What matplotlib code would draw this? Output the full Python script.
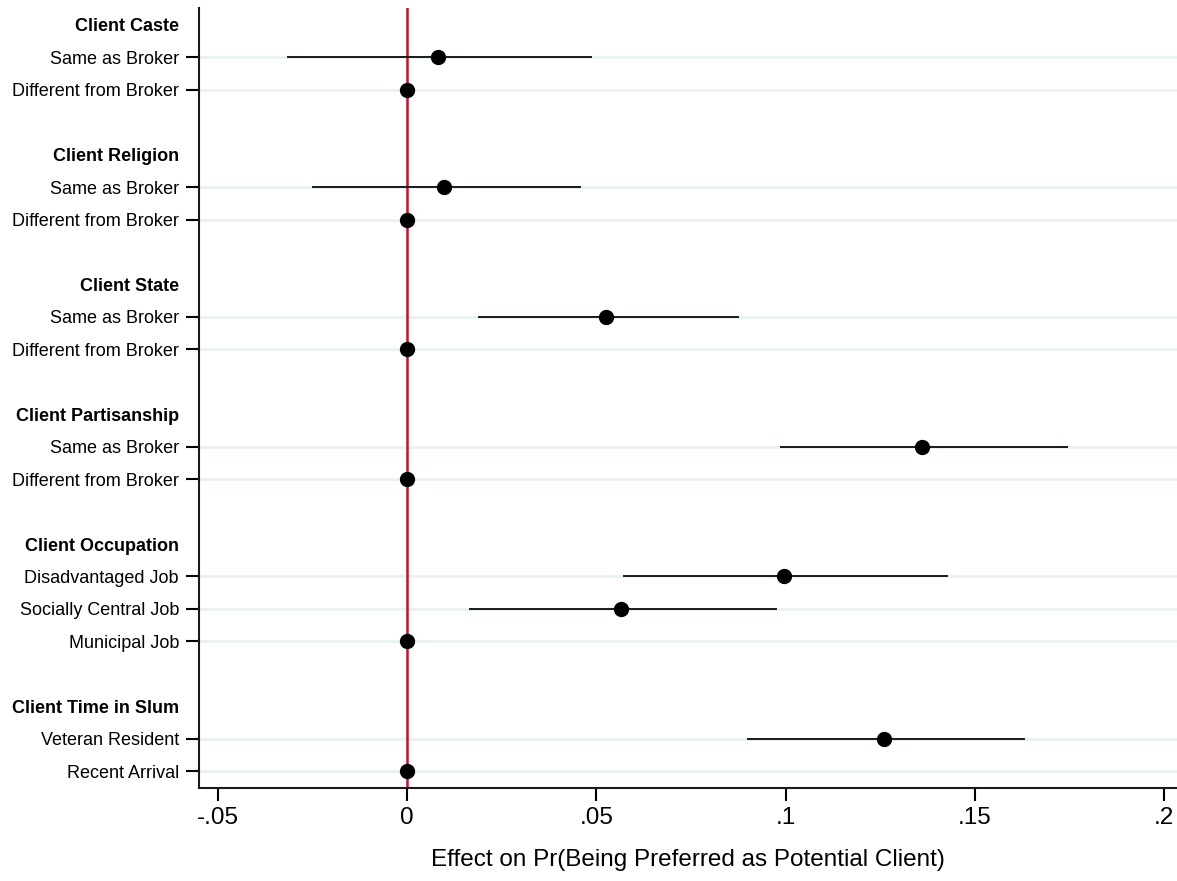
import numpy as np
import matplotlib
matplotlib.use("Agg")
import matplotlib.pyplot as plt

plt.rcParams['font.family'] = ['Liberation Sans', 'DejaVu Sans']

# Rows top-to-bottom: (label, is_header)
row_labels = ["Client Caste", "Same as Broker", "Different from Broker", "",
              "Client Religion", "Same as Broker", "Different from Broker", "",
              "Client State", "Same as Broker", "Different from Broker", "",
              "Client Partisanship", "Same as Broker", "Different from Broker", "",
              "Client Occupation", "Disadvantaged Job", "Socially Central Job", "Municipal Job", "",
              "Client Time in Slum", "Veteran Resident", "Recent Arrival"]
row_is_header = [True, False, False, None,
                 True, False, False, None,
                 True, False, False, None,
                 True, False, False, None,
                 True, False, False, False, None,
                 True, False, False]
nan = np.nan
estimates = [nan, 0.0082, 0.0, nan,
             nan, 0.0098, 0.0, nan,
             nan, 0.0525, 0.0, nan,
             nan, 0.1359, 0.0, nan,
             nan, 0.0995, 0.0566, 0.0, nan,
             nan, 0.1261, 0.0]
ci_low = [nan, -0.0314, nan, nan,
          nan, -0.0250, nan, nan,
          nan, 0.0190, nan, nan,
          nan, 0.0987, nan, nan,
          nan, 0.0573, 0.0166, nan, nan,
          nan, 0.0900, nan]
ci_high = [nan, 0.0486, nan, nan,
           nan, 0.0456, nan, nan,
           nan, 0.0873, nan, nan,
           nan, 0.1744, nan, nan,
           nan, 0.1427, 0.0974, nan, nan,
           nan, 0.1630, nan]
xticks = [-0.05, 0, 0.05, 0.1, 0.15, 0.2]
xtick_labels = ["-.05", "0", ".05", ".1", ".15", ".2"]
xlabel = "Effect on Pr(Being Preferred as Potential Client)"

fig = plt.figure(figsize=(11.77, 8.81), dpi=100)
ax = fig.add_axes([199/1177, 1 - 788/881, 1 - 199/1177, (788 - 8)/881])

n = len(row_labels)
ypos = np.arange(n)
est = np.array(estimates, dtype=float)
lo = np.array(ci_low, dtype=float)
hi = np.array(ci_high, dtype=float)

tick_rows = [i for i in range(n) if row_is_header[i] is False]
header_rows = [i for i in range(n) if row_is_header[i] is True]

# gridlines at labelled rows
for i in tick_rows:
    ax.axhline(i, color='#ebf2f4', lw=2.2, zorder=0)

# reference line
ax.axvline(0, color='#c8102e', lw=1.8, zorder=2)

# CIs
for i in range(n):
    if np.isfinite(lo[i]):
        ax.plot([lo[i], hi[i]], [i, i], color='#1a1a1a', lw=1.4, zorder=3)
mask = np.isfinite(est)
ax.plot(est[mask], ypos[mask], 'o', color='black', ms=10, zorder=4)

ax.set_xlim(-0.055, 0.2034)
ax.set_ylim(n - 1 + 0.52, -0.52)

ytick_len = 9.4
ytick_pad = 5
ax.set_yticks(tick_rows)
ax.set_yticklabels([row_labels[i] for i in tick_rows], fontsize=13)
ax.tick_params(axis='y', length=ytick_len, width=1.5, pad=ytick_pad)
ax.set_xticks(xticks)
ax.set_xticklabels(xtick_labels, fontsize=17.5)
ax.tick_params(axis='x', length=9, width=1.5, pad=5)
ax.set_xlabel(xlabel, fontsize=17.5, labelpad=14)

for i in header_rows:
    ax.annotate(row_labels[i], xy=(0, i), xycoords=('axes fraction', 'data'),
                xytext=(-(ytick_len + ytick_pad), -1.5), textcoords='offset points',
                ha='right', va='center', fontsize=13, fontweight='bold')

for s in ['top', 'right']:
    ax.spines[s].set_visible(False)
for s in ['left', 'bottom']:
    ax.spines[s].set_linewidth(1.5)
    ax.spines[s].set_color('#1a1a1a')

fig.savefig("out.png", dpi=100)
